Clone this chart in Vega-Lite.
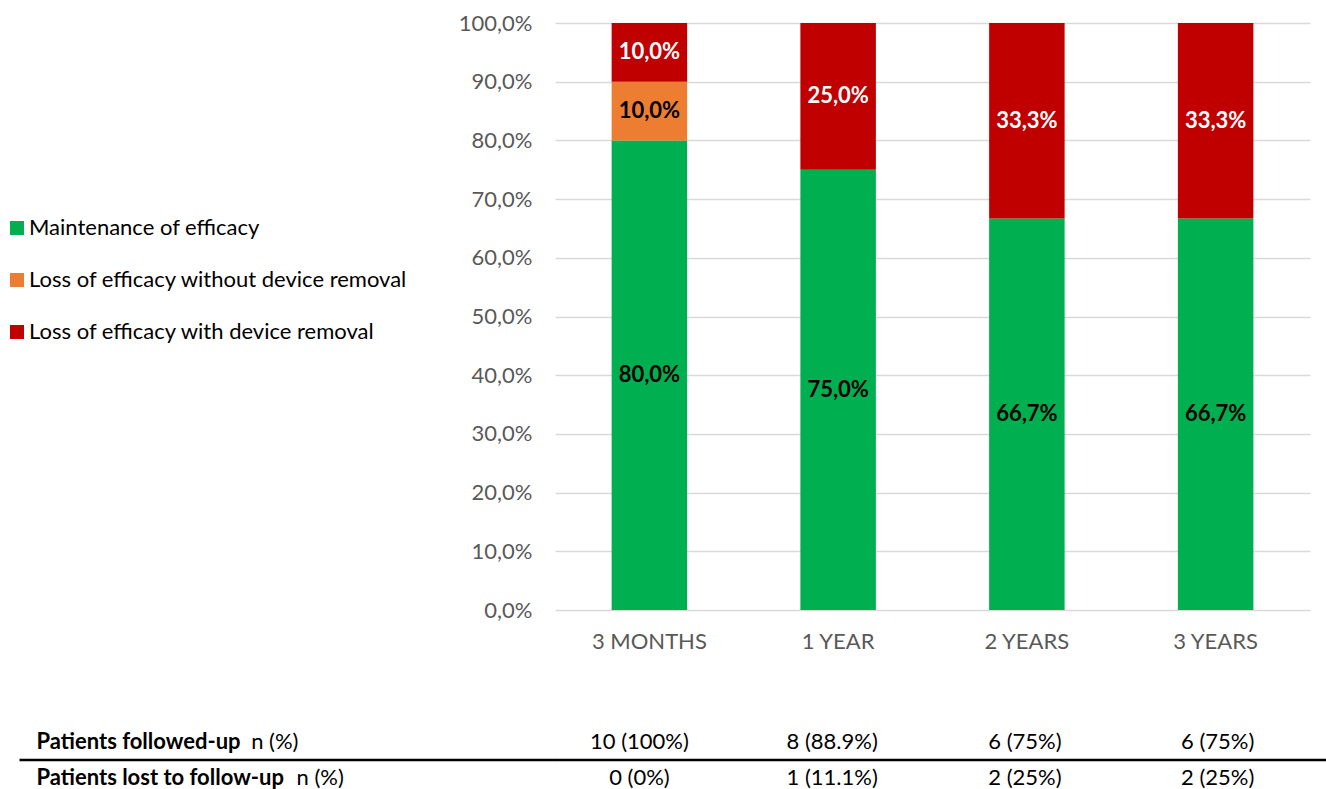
{
  "$schema": "https://vega.github.io/schema/vega-lite/v6.json",
  "autosize": {"type": "pad"},
  "padding": {"left": 6, "top": 12, "right": 0, "bottom": 0},
  "background": "#FFFFFF",
  "config": {
    "font": "Lato",
    "view": {"stroke": null},
    "locale": {
      "number": {"decimal": ",", "thousands": ".", "grouping": [3], "currency": ["", " €"]}
    }
  },
  "datasets": {
    "outcomes": [
      {"time": "3 MONTHS", "outcome": "Maintenance of efficacy", "rank": 1, "pct": 0.8},
      {"time": "3 MONTHS", "outcome": "Loss of efficacy without device removal", "rank": 2, "pct": 0.1},
      {"time": "3 MONTHS", "outcome": "Loss of efficacy with device removal", "rank": 3, "pct": 0.1},
      {"time": "1 YEAR", "outcome": "Maintenance of efficacy", "rank": 1, "pct": 0.75},
      {"time": "1 YEAR", "outcome": "Loss of efficacy with device removal", "rank": 3, "pct": 0.25},
      {"time": "2 YEARS", "outcome": "Maintenance of efficacy", "rank": 1, "pct": 0.667},
      {"time": "2 YEARS", "outcome": "Loss of efficacy with device removal", "rank": 3, "pct": 0.333},
      {"time": "3 YEARS", "outcome": "Maintenance of efficacy", "rank": 1, "pct": 0.667},
      {"time": "3 YEARS", "outcome": "Loss of efficacy with device removal", "rank": 3, "pct": 0.333}
    ],
    "followup": [
      {"time": "3 MONTHS", "row": "Patients followed-up", "value": "10 (100%)"},
      {"time": "1 YEAR", "row": "Patients followed-up", "value": "8 (88.9%)"},
      {"time": "2 YEARS", "row": "Patients followed-up", "value": "6 (75%)"},
      {"time": "3 YEARS", "row": "Patients followed-up", "value": "6 (75%)"},
      {"time": "3 MONTHS", "row": "Patients lost to follow-up", "value": "0 (0%)"},
      {"time": "1 YEAR", "row": "Patients lost to follow-up", "value": "1 (11.1%)"},
      {"time": "2 YEARS", "row": "Patients lost to follow-up", "value": "2 (25%)"},
      {"time": "3 YEARS", "row": "Patients lost to follow-up", "value": "2 (25%)"}
    ]
  },
  "resolve": {"scale": {"color": "independent"}},
  "bounds": "full",
  "spacing": 72,
  "vconcat": [
    {
      "width": 755,
      "height": 587,
      "data": {"name": "outcomes"},
      "encoding": {
        "x": {
          "field": "time",
          "type": "nominal",
          "sort": ["3 MONTHS", "1 YEAR", "2 YEARS", "3 YEARS"],
          "scale": {"paddingInner": 0.6, "paddingOuter": 0.3},
          "axis": {
            "title": null,
            "labelAngle": 0,
            "labelFontSize": 22,
            "labelColor": "#595959",
            "labelPadding": 21,
            "ticks": false,
            "domain": false
          }
        }
      },
      "layer": [
        {
          "mark": {"type": "bar"},
          "encoding": {
            "y": {
              "field": "pct",
              "type": "quantitative",
              "stack": "zero",
              "scale": {"domain": [0, 1], "nice": false},
              "axis": {
                "title": null,
                "values": [0, 0.1, 0.2, 0.3, 0.4, 0.5, 0.6, 0.7, 0.8, 0.9, 1],
                "format": ".1%",
                "labelFontSize": 22,
                "labelColor": "#595959",
                "labelPadding": 23,
                "ticks": false,
                "domain": false,
                "grid": true,
                "gridColor": "#D9D9D9",
                "gridWidth": 1.5
              }
            },
            "color": {
              "field": "outcome",
              "type": "nominal",
              "scale": {
                "domain": ["Maintenance of efficacy", "Loss of efficacy without device removal", "Loss of efficacy with device removal"],
                "range": ["#00B050", "#ED7D31", "#C00000"]
              },
              "legend": {
                "title": null,
                "orient": "none",
                "legendX": -549,
                "legendY": 194,
                "padding": 0,
                "symbolType": "square",
                "symbolSize": 196,
                "symbolStrokeWidth": 0,
                "labelFontSize": 22,
                "labelColor": "#000000",
                "labelOffset": 1,
                "labelLimit": 600,
                "rowPadding": 30
              }
            },
            "order": {"field": "rank", "type": "quantitative"}
          }
        },
        {
          "mark": {"type": "text", "fontSize": 22, "fontWeight": "bold", "baseline": "middle"},
          "encoding": {
            "y": {"field": "pct", "type": "quantitative", "stack": "zero", "bandPosition": 0.5},
            "detail": {"field": "outcome"},
            "order": {"field": "rank", "type": "quantitative"},
            "text": {"field": "pct", "type": "quantitative", "format": ".1%"},
            "color": {
              "condition": {"test": "datum.outcome === 'Loss of efficacy with device removal'", "value": "#FFFFFF"},
              "value": "#000000"
            }
          }
        }
      ]
    },
    {
      "width": 771,
      "height": 72,
      "data": {"name": "followup"},
      "layer": [
        {
          "transform": [{"filter": "datum.row === 'Patients followed-up'"}],
          "mark": {"type": "text", "fontSize": 22, "color": "#000000", "baseline": "middle"},
          "encoding": {
            "x": {
              "field": "time",
              "type": "nominal",
              "sort": ["3 MONTHS", "1 YEAR", "2 YEARS", "3 YEARS"],
              "scale": {"paddingInner": 0.6, "paddingOuter": 0.3424, "align": 0.438},
              "axis": null
            },
            "y": {
              "field": "row",
              "type": "nominal",
              "sort": ["Patients followed-up", "Patients lost to follow-up"],
              "scale": {"paddingInner": 0, "paddingOuter": 0},
              "axis": {
                "orient": "left",
                "title": null,
                "domain": false,
                "ticks": false,
                "labelAlign": "left",
                "labelBaseline": "middle",
                "labelPadding": 519,
                "labelFontSize": 22,
                "labelFontWeight": "bold",
                "labelColor": "#000000",
                "labelLimit": 0
              }
            },
            "text": {"field": "value"}
          }
        },
        {
          "transform": [{"filter": "datum.row === 'Patients lost to follow-up'"}],
          "mark": {"type": "text", "fontSize": 22, "color": "#000000", "baseline": "middle"},
          "encoding": {
            "x": {
              "field": "time",
              "type": "nominal",
              "sort": ["3 MONTHS", "1 YEAR", "2 YEARS", "3 YEARS"],
              "axis": null
            },
            "y": {
              "field": "row",
              "type": "nominal",
              "sort": ["Patients followed-up", "Patients lost to follow-up"],
              "axis": {
                "orient": "left",
                "title": null,
                "domain": false,
                "ticks": false,
                "labelAlign": "left",
                "labelBaseline": "middle",
                "labelPadding": 259,
                "labelFontSize": 22,
                "labelColor": "#000000",
                "labelLimit": 0,
                "labelExpr": "datum.value === 'Patients lost to follow-up' ? 'n (%)' : ''"
              }
            },
            "text": {"field": "value"}
          }
        },
        {
          "transform": [{"filter": "datum.row === 'Patients lost to follow-up' && datum.time === '3 MONTHS'"}],
          "mark": {"type": "rule", "color": "#000000", "strokeWidth": 2.5},
          "encoding": {
            "y": {
              "field": "row",
              "type": "nominal",
              "sort": ["Patients followed-up", "Patients lost to follow-up"],
              "bandPosition": 0,
              "axis": {
                "orient": "left",
                "title": null,
                "domain": false,
                "values": ["Patients lost to follow-up"],
                "bandPosition": 0,
                "ticks": true,
                "tickSize": 536,
                "tickWidth": 2.5,
                "tickColor": "#000000",
                "tickRound": false,
                "labelAlign": "left",
                "labelBaseline": "middle",
                "labelOffset": -36,
                "labelPadding": -231.7,
                "labelFontSize": 22,
                "labelColor": "#000000",
                "labelLimit": 0,
                "labelExpr": "'n (%)'"
              }
            }
          }
        }
      ],
      "resolve": {"axis": {"y": "independent"}}
    }
  ]
}
